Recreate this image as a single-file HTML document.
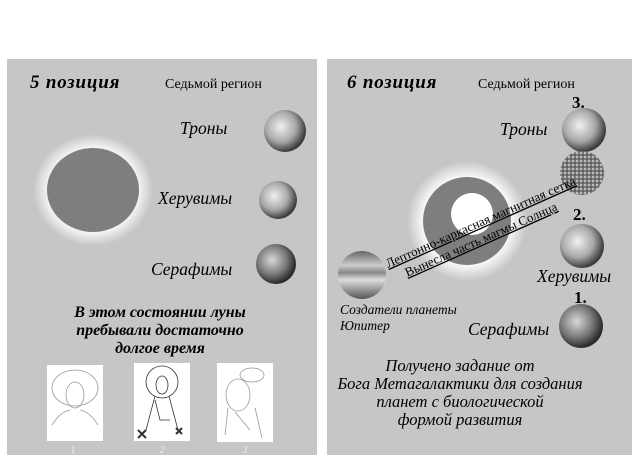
<!DOCTYPE html>
<html><head><meta charset="utf-8"><style>
html,body{margin:0;padding:0;background:#fff;width:639px;height:463px;overflow:hidden}
svg text{font-family:"Liberation Serif",serif}
</style></head><body>
<svg width="639" height="463" viewBox="0 0 639 463" xmlns="http://www.w3.org/2000/svg">
<defs>
<radialGradient id="glow" cx="50%" cy="50%" r="50%">
<stop offset="0.7" stop-color="#fff" stop-opacity="1"/>
<stop offset="1" stop-color="#fff" stop-opacity="0"/>
</radialGradient>
<radialGradient id="moon" cx="40%" cy="40%" r="60%">
<stop offset="0" stop-color="#f0f0f0"/><stop offset="0.6" stop-color="#a8a8a8"/><stop offset="1" stop-color="#3c3c3c"/>
</radialGradient>
<radialGradient id="moond" cx="40%" cy="40%" r="60%">
<stop offset="0" stop-color="#d8d8d8"/><stop offset="0.6" stop-color="#7a7a7a"/><stop offset="1" stop-color="#2a2a2a"/>
</radialGradient>
<pattern id="dots" width="4" height="4" patternUnits="userSpaceOnUse">
<rect width="4" height="4" fill="#7a7a7a"/><circle cx="1" cy="1" r="1" fill="#d0d0d0"/><circle cx="3" cy="3" r="0.8" fill="#444"/>
</pattern>
<linearGradient id="jup" x1="0" y1="0" x2="0" y2="1">
<stop offset="0" stop-color="#666"/><stop offset="0.3" stop-color="#ccc"/><stop offset="0.45" stop-color="#888"/><stop offset="0.6" stop-color="#ddd"/><stop offset="0.8" stop-color="#999"/><stop offset="1" stop-color="#555"/>
</linearGradient>
</defs>
<rect x="7" y="59" width="310" height="396" fill="#c6c6c6"/>
<rect x="327" y="59" width="305" height="396" fill="#c6c6c6"/>

<text x="30" y="88" font-size="19" font-style="italic" font-weight="bold" letter-spacing="0.8">5  позиция</text>
<text x="165" y="88" font-size="14">Седьмой регион</text>
<ellipse cx="93" cy="190" rx="60" ry="56" fill="url(#glow)"/>
<ellipse cx="93" cy="190" rx="46" ry="42" fill="#7e7e7e"/>
<text x="180" y="134" font-size="17.5" font-style="italic">Троны</text>
<circle cx="285" cy="131" r="21" fill="url(#moon)"/>
<text x="158" y="204" font-size="17.5" font-style="italic">Херувимы</text>
<circle cx="278" cy="200" r="19" fill="url(#moon)"/>
<text x="151" y="275" font-size="17.5" font-style="italic">Серафимы</text>
<circle cx="276" cy="264" r="20" fill="url(#moond)"/>
<g font-size="16" font-style="italic" font-weight="bold" text-anchor="middle">
<text x="160" y="317">В этом состоянии луны</text>
<text x="160" y="335">пребывали  достаточно</text>
<text x="160" y="353">долгое время</text>
</g>
<rect x="47" y="365" width="56" height="76" fill="#fff"/>
<g fill="none" stroke="#999" stroke-width="0.8">
<ellipse cx="75" cy="388" rx="23" ry="18"/><ellipse cx="75" cy="395" rx="9" ry="13"/><path d="M52 425 Q60 412 70 410 M98 425 Q90 412 80 410"/>
</g>
<text x="73" y="453" font-size="10" fill="#eee" text-anchor="middle" font-style="italic">1</text>
<rect x="134" y="363" width="56" height="78" fill="#fff"/>
<g fill="none" stroke="#333" stroke-width="0.8">
<circle cx="162" cy="382" r="16"/><ellipse cx="162" cy="385" rx="6" ry="9"/><path d="M155 396 L146 430 M169 396 L178 430 M155 400 L160 420 L170 420"/><path d="M138 430 l8 8 m0 -8 l-8 8 M176 428 l6 6 m0 -6 l-6 6" stroke-width="2"/>
</g>
<text x="162" y="453" font-size="10" fill="#eee" text-anchor="middle" font-style="italic">2</text>
<rect x="217" y="363" width="56" height="79" fill="#fff"/>
<g fill="none" stroke="#999" stroke-width="0.8">
<ellipse cx="252" cy="375" rx="12" ry="7"/><ellipse cx="238" cy="395" rx="12" ry="16"/><path d="M228 408 L225 435 M255 408 L262 438 M235 412 L250 430"/>
</g>
<text x="245" y="453" font-size="10" fill="#eee" text-anchor="middle" font-style="italic">3</text>

<text x="347" y="88" font-size="19" font-style="italic" font-weight="bold" letter-spacing="0.8">6  позиция</text>
<text x="478" y="88" font-size="14">Седьмой регион</text>
<text x="572" y="108" font-size="17" font-weight="bold">3.</text>
<text x="500" y="135" font-size="17.5" font-style="italic">Троны</text>
<circle cx="584" cy="130" r="22" fill="url(#moon)"/>
<circle cx="582" cy="173" r="22" fill="url(#dots)"/>
<circle cx="467" cy="221" r="60" fill="url(#glow)"/>
<circle cx="467" cy="221" r="44" fill="#7e7e7e"/>
<circle cx="472" cy="214" r="21" fill="#fff"/>
<text x="573" y="220" font-size="17" font-weight="bold">2.</text>
<circle cx="582" cy="246" r="22" fill="url(#moon)"/>
<text x="537" y="282" font-size="17.5" font-style="italic">Херувимы</text>
<text x="574" y="303" font-size="17" font-weight="bold">1.</text>
<circle cx="581" cy="326" r="22" fill="url(#moond)"/>
<text x="468" y="335" font-size="17.5" font-style="italic">Серафимы</text>
<circle cx="362" cy="275" r="24" fill="url(#jup)"/>
<text x="340" y="314" font-size="13.5" font-style="italic">Создатели планеты</text>
<text x="340" y="330" font-size="13.5" font-style="italic">Юпитер</text>
<g transform="translate(388,268) rotate(-24)" font-size="13">
<text x="0" y="0" text-decoration="underline">Лептонно-каркасная магнитная сетка</text>
<text x="14" y="16" text-decoration="underline">Вынесла часть магмы Солнца</text>
</g>
<g font-size="16.5" font-style="italic" text-anchor="middle">
<text x="460" y="371">Получено задание от</text>
<text x="460" y="389">Бога Метагалактики для создания</text>
<text x="460" y="407">планет с биологической</text>
<text x="460" y="425">формой развития</text>
</g>
</svg>
</body></html>
